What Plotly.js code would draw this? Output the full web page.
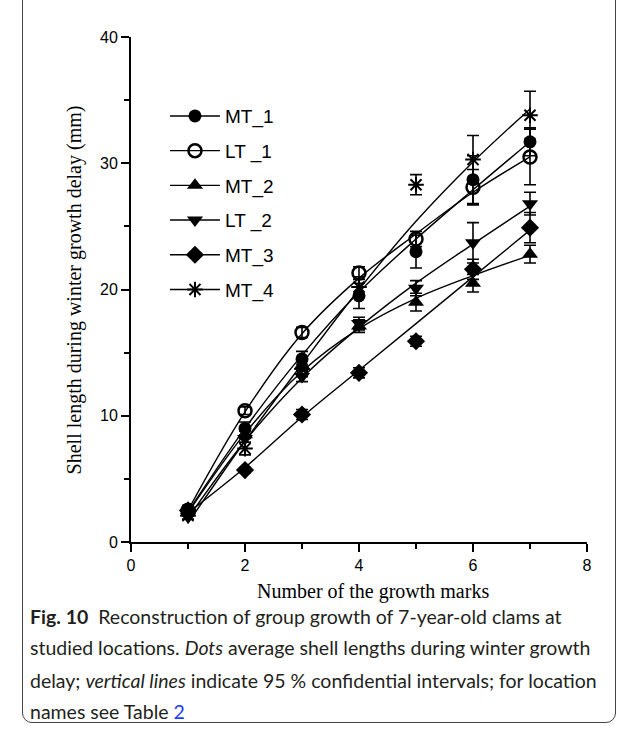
<!DOCTYPE html>
<html>
<head>
<meta charset="utf-8">
<script src="https://cdn.plot.ly/plotly-3.0.1.min.js"></script>
<style>
  html, body { margin:0; padding:0; background:#fff; }
  #frame { position:absolute; left:22px; top:-12px; width:592px; height:733px; border:1px solid #444; border-radius:10px; }
  #chart { position:absolute; left:0; top:0; width:637px; height:729px; }
</style>
</head>
<body>
<div id="frame"></div>
<div id="chart"></div>
<script>
const marks = [1, 2, 3, 4, 5, 6, 7];
const seriesNames = ["MT_1", "LT _1", "MT_2", "LT _2", "MT_3", "MT_4"];

// mean shell lengths (mm)
const MT_1 = [2.6, 9.0, 14.5, 19.5, 23.0, 28.7, 31.7];
const LT_1 = [2.5, 10.4, 16.6, 21.3, 24.0, 28.1, 30.5];
const MT_2 = [2.3, 8.5, 14.0, 17.1, 19.0, 20.5, 22.8];
const LT_2 = [2.0, 8.2, 13.1, 17.3, 20.1, 23.7, 26.8];
const MT_3 = [2.5, 5.7, 10.1, 13.4, 15.9, 21.6, 24.9];
const MT_4 = [2.1, 7.4, 13.7, 20.2, 28.3, 30.3, 33.8];

// 95% confidence half-widths (mm)
const MT_1_ci = [0.3, 0.5, 0.6, 1.0, 1.3, 1.9, 1.1];
const LT_1_ci = [0.2, 0.3, 0.4, 0.5, 0.6, 1.4, 2.2];
const MT_2_ci = [0.2, 0.3, 0.4, 0.5, 0.7, 0.7, 0.7];
const LT_2_ci = [0.2, 0.3, 0.4, 0.5, 0.6, 1.6, 0.9];
const MT_3_ci = [0.2, 0.2, 0.4, 0.4, 0.4, 0.8, 1.2];
const MT_4_ci = [0.3, 0.5, 0.6, 0.8, 0.8, 1.9, 1.9];

// fitted growth curves
const MT_1_fit = [2.4, 9.0, 14.8, 19.8, 24.0, 27.9, 31.7];
const LT_1_fit = [2.5, 10.3, 16.5, 20.9, 24.4, 27.7, 30.5];
const MT_2_fit = [2.3, 8.6, 13.5, 16.9, 19.3, 21.1, 22.7];
const LT_2_fit = [1.9, 8.0, 13.0, 17.0, 20.5, 23.6, 26.6];
const MT_3_fit = [2.3, 5.9, 9.9, 13.6, 17.3, 21.0, 24.7];
const MT_4_fit = [1.5, 8.0, 14.1, 20.0, 25.4, 30.1, 34.3];

const means = [MT_1, LT_1, MT_2, LT_2, MT_3, MT_4];
const cis = [MT_1_ci, LT_1_ci, MT_2_ci, LT_2_ci, MT_3_ci, MT_4_ci];
const fits = [MT_1_fit, LT_1_fit, MT_2_fit, LT_2_fit, MT_3_fit, MT_4_fit];

const symbols = ["circle", "circle-open", "triangle-up", "triangle-down", "diamond", "asterisk-open"];
const sizes = [13, 13, 14, 14, 14, 13];

function markerStyle(i) {
  const s = symbols[i];
  return { symbol: s, size: sizes[i], color: "#000",
           line: { color: "#000", width: s === "circle-open" ? 2.5 : (s === "asterisk-open" ? 2 : 0) } };
}

const traces = [];
// fitted lines
fits.forEach((f, i) => {
  traces.push({
    x: marks, y: f, type: "scatter", mode: "lines",
    line: { color: "#000", width: 1.4, shape: "spline", smoothing: 1 },
    showlegend: false, hoverinfo: "skip"
  });
});
// markers with error bars
means.forEach((m, i) => {
  traces.push({
    x: marks, y: m, type: "scatter", mode: "markers",
    marker: markerStyle(i),
    error_y: { type: "data", array: cis[i], visible: true, color: "#000", thickness: 1.6, width: 6 },
    showlegend: false
  });
});
// legend entries
seriesNames.forEach((n, i) => {
  traces.push({
    x: [null], y: [null], type: "scatter", mode: "lines+markers", name: n,
    legendgroup: "g" + i,
    line: { color: "#000", width: 1.4 },
    marker: markerStyle(i)
  });
});

const capFont = { family: "Lato, 'Noto Sans', sans-serif", size: 19.5, color: "#231f20" };
const capX = -0.226;
const layout = {
  width: 637, height: 729,
  margin: { l: 131, r: 50, t: 37, b: 187 },
  paper_bgcolor: "rgba(0,0,0,0)", plot_bgcolor: "rgba(0,0,0,0)",
  showlegend: true,
  legend: {
    x: 0.0745, y: 0.881, xanchor: "left", yanchor: "top", itemwidth: 50,
    bgcolor: "rgba(0,0,0,0)", traceorder: "grouped", tracegroupgap: 7,
    font: { family: "'Liberation Sans', Arial, sans-serif", size: 19, color: "#000" }
  },
  xaxis: {
    range: [0, 8], dtick: 2, tick0: 0, showgrid: false, zeroline: false,
    showline: true, linecolor: "#000", linewidth: 2,
    ticks: "outside", ticklen: 8, tickwidth: 2, tickcolor: "#000",
    minor: { dtick: 1, ticks: "outside", ticklen: 5, tickwidth: 2, tickcolor: "#000" },
    tickfont: { family: "'Liberation Sans', Arial, sans-serif", size: 16, color: "#000" }
  },
  yaxis: {
    range: [0, 40], dtick: 10, tick0: 0, showgrid: false, zeroline: false,
    showline: true, linecolor: "#000", linewidth: 2,
    ticks: "outside", ticklen: 8, tickwidth: 2, tickcolor: "#000",
    minor: { dtick: 5, ticks: "outside", ticklen: 5, tickwidth: 2, tickcolor: "#000" },
    tickfont: { family: "'Liberation Sans', Arial, sans-serif", size: 16, color: "#000" }
  },
  annotations: [
    { text: "Number of the growth marks", xref: "paper", yref: "paper", x: 0.53, y: -0.099,
      xanchor: "center", yanchor: "middle", showarrow: false,
      font: { family: "'Liberation Serif', 'Times New Roman', serif", size: 20, color: "#000" } },
    { text: "Shell length during winter growth delay (mm)", xref: "paper", yref: "paper", x: -0.123, y: 0.5,
      xanchor: "center", yanchor: "middle", showarrow: false, textangle: -90,
      font: { family: "'Liberation Serif', 'Times New Roman', serif", size: 20, color: "#000" } },
    { text: "<b>Fig. 10</b>  Reconstruction of group growth of 7-year-old clams at", xref: "paper", yref: "paper",
      x: capX, y: -0.1485, xanchor: "left", yanchor: "middle", showarrow: false, font: capFont },
    { text: "studied locations. <i>Dots</i> average shell lengths during winter growth", xref: "paper", yref: "paper",
      x: capX, y: -0.2099, xanchor: "left", yanchor: "middle", showarrow: false, font: capFont },
    { text: "delay; <i>vertical lines</i> indicate 95 % confidential intervals; for location", xref: "paper", yref: "paper",
      x: capX, y: -0.2733, xanchor: "left", yanchor: "middle", showarrow: false, font: capFont },
    { text: "names see Table <span style='color:#1a3cff'>2</span>", xref: "paper", yref: "paper",
      x: capX, y: -0.3347, xanchor: "left", yanchor: "middle", showarrow: false, font: capFont }
  ]
};

Plotly.newPlot("chart", traces, layout, { displayModeBar: false, staticPlot: true });
</script>
</body>
</html>
